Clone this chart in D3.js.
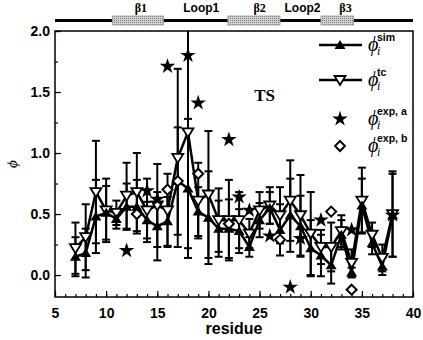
<!DOCTYPE html>
<html><head><meta charset="utf-8">
<script src="https://cdn.jsdelivr.net/npm/d3@7"></script>
<style>body{margin:0;background:#fff}svg{display:block}</style>
</head><body>
<svg id="c" width="423" height="340"></svg>
<script>
const residues = [7,8,9,10,11,12,13,14,15,16,17,18,19,20,21,22,23,24,25,26,27,28,29,30,31,32,33,34,35,36,37,38];
const phiSim   = [0.15,0.18,0.48,0.51,0.46,0.56,0.56,0.45,0.40,0.44,0.77,0.71,0.52,0.47,0.38,0.38,0.36,0.23,0.45,0.55,0.37,0.49,0.40,0.22,0.16,0.08,0.33,0.02,0.57,0.26,0.07,0.49];
const errSim   = [0.16,0.20,0.30,0.22,0.08,0.19,0.22,0.15,0.28,0.20,0.44,0.57,0.20,0.38,0.23,0.24,0.18,0.08,0.14,0.13,0.21,0.30,0.25,0.23,0.17,0.15,0.12,0.04,0.22,0.09,0.07,0.34];
const phiTc    = [0.22,0.31,0.68,0.53,0.51,0.65,0.68,0.53,0.57,0.53,0.96,1.17,0.61,0.66,0.45,0.45,0.45,0.34,0.53,0.57,0.49,0.61,0.49,0.34,0.23,0.23,0.36,0.10,0.61,0.33,0.14,0.50];
const errTc    = [0.21,0.27,0.42,0.26,0.10,0.27,0.32,0.26,0.34,0.30,0.73,0.95,0.31,0.52,0.26,0.33,0.23,0.12,0.15,0.15,0.23,0.33,0.33,0.34,0.14,0.20,0.13,0.11,0.27,0.10,0.11,0.35];
const expAres  = [12,14,15,16,18,19,22,23,24,26,28,29,31,34,38];
const expAval  = [0.20,0.69,0.62,1.71,1.80,1.41,1.11,0.64,0.53,0.32,-0.10,0.30,0.45,0.37,0.49];
const expBres  = [13,16,17,19,22,27,32,34];
const expBval  = [0.50,0.70,0.77,0.83,0.42,0.29,0.52,-0.12];
const xTicks   = [5,10,15,20,25,30,35,40];
const yTicks   = [0.0,0.5,1.0,1.5,2.0];
const sseNames = ["β1","Loop1","β2","Loop2","β3"];
const sseLabelPos = [13.4,19.3,25.0,29.2,33.4];
const strands  = [[10.6,15.6],[21.9,27.0],[31.0,34.2]];

const svg = d3.select("#c");
const L=55,R=413,T=31,B=297;
const x = d3.scaleLinear().domain([5,40]).range([L,R]);
const y = d3.scaleLinear().domain([-0.18,2.0]).range([B,T]);
const sans = "'Liberation Sans', Arial, sans-serif";
const serif = "'Liberation Serif', 'Times New Roman', serif";

const defs = svg.append("defs");
const pat = defs.append("pattern").attr("id","hatch").attr("width",2).attr("height",2).attr("patternUnits","userSpaceOnUse");
pat.append("rect").attr("width",2).attr("height",2).attr("fill","#d0d0d0");
pat.append("rect").attr("width",1).attr("height",1).attr("fill","#808080");
defs.append("clipPath").attr("id","clip").append("rect").attr("x",L).attr("y",T).attr("width",R-L).attr("height",B-T);

// secondary structure bar
svg.append("line").attr("x1",x(5)).attr("x2",x(40)).attr("y1",20.5).attr("y2",20.5).attr("stroke","#000").attr("stroke-width",3);
svg.selectAll(".strand").data(strands).join("rect")
  .attr("x",d=>x(d[0])).attr("width",d=>x(d[1])-x(d[0])).attr("y",16).attr("height",9)
  .attr("fill","url(#hatch)").attr("stroke","#999").attr("stroke-width",0.8);
svg.selectAll(".sse").data(sseNames).join("text")
  .attr("x",(d,i)=>x(sseLabelPos[i])).attr("y",12).attr("text-anchor","middle")
  .attr("font-family",(d)=>d.startsWith("β")?serif:sans).attr("font-weight","bold").attr("font-size",12).text(d=>d);

// axes
const gx = svg.append("g").attr("transform",`translate(0,${B})`);
gx.call(d3.axisBottom(x).tickValues(d3.range(5,41,1)).tickSize(-3).tickFormat(""));
gx.select(".domain").remove();
const gx2 = svg.append("g").attr("transform",`translate(0,${B})`);
gx2.call(d3.axisBottom(x).tickValues(xTicks).tickSize(-6).tickPadding(11).tickFormat(d3.format("d")));
gx2.select(".domain").remove();
gx2.selectAll("text").attr("font-family",sans).attr("font-weight","bold").attr("font-size",14).attr("fill","#000");

const gy = svg.append("g").attr("transform",`translate(${L},0)`);
gy.call(d3.axisLeft(y).tickValues(d3.range(0,2.01,0.25)).tickSize(-3).tickFormat(""));
gy.select(".domain").remove();
const gy2 = svg.append("g").attr("transform",`translate(${L},0)`);
gy2.call(d3.axisLeft(y).tickValues(yTicks).tickSize(-6).tickPadding(5).tickFormat(d3.format(".1f")));
gy2.select(".domain").remove();
gy2.selectAll("text").attr("font-family",sans).attr("font-weight","bold").attr("font-size",14).attr("fill","#000");
svg.selectAll(".tick line").attr("stroke","#000").attr("stroke-width",1.2);

svg.append("rect").attr("x",L).attr("y",T).attr("width",R-L).attr("height",B-T).attr("fill","none").attr("stroke","#000").attr("stroke-width",1.5);

svg.append("text").attr("x",(L+R)/2).attr("y",334).attr("text-anchor","middle")
  .attr("font-family",sans).attr("font-weight","bold").attr("font-size",16).text("residue");
svg.append("text").attr("transform",`translate(17,${(T+B)/2}) rotate(-90)`).attr("text-anchor","middle")
  .attr("font-family",serif).attr("font-style","italic").attr("font-size",15).text("ϕ");

svg.append("text").attr("x",x(25.5)).attr("y",101).attr("text-anchor","middle")
  .attr("font-family",serif).attr("font-weight","bold").attr("font-size",17).text("TS");

// data
const plot = svg.append("g").attr("clip-path","url(#clip)");
function errBars(vals, errs){
  const g = plot.append("g").attr("stroke","#000").attr("stroke-width",2);
  residues.forEach((r,i)=>{
    const cx=x(r), y1=y(vals[i]+errs[i]), y2=y(vals[i]-errs[i]);
    g.append("line").attr("x1",cx).attr("x2",cx).attr("y1",y1).attr("y2",y2);
    g.append("line").attr("x1",cx-4).attr("x2",cx+4).attr("y1",y1).attr("y2",y1);
    g.append("line").attr("x1",cx-4).attr("x2",cx+4).attr("y1",y2).attr("y2",y2);
  });
}
errBars(phiTc, errTc);
errBars(phiSim, errSim);
const line = d3.line().x((d,i)=>x(residues[i])).y(d=>y(d));
plot.append("path").datum(phiTc).attr("d",line).attr("fill","none").attr("stroke","#000").attr("stroke-width",2.5);
plot.append("path").datum(phiSim).attr("d",line).attr("fill","none").attr("stroke","#000").attr("stroke-width",2.5);

const tri = "M0,-5L5.5,4L-5.5,4Z";
const triDown = "M0,5L5.5,-4L-5.5,-4Z";
plot.selectAll(".tc").data(phiTc).join("path").attr("d",triDown)
  .attr("transform",(d,i)=>`translate(${x(residues[i])},${y(d)})`).attr("fill","#fff").attr("stroke","#000").attr("stroke-width",1.8);
plot.selectAll(".sim").data(phiSim).join("path").attr("d",tri)
  .attr("transform",(d,i)=>`translate(${x(residues[i])},${y(d)})`).attr("fill","#000");
const star = d3.symbol().type(d3.symbolStar).size(75);
plot.selectAll(".sa").data(expAval).join("path").attr("d",star)
  .attr("transform",(d,i)=>`translate(${x(expAres[i])},${y(d)})`).attr("fill","#000");
const dia = "M0,-5L5,0L0,5L-5,0Z";
plot.selectAll(".sb").data(expBval).join("path").attr("d",dia)
  .attr("transform",(d,i)=>`translate(${x(expBres[i])},${y(d)})`).attr("fill","#fff").attr("stroke","#000").attr("stroke-width",2);

// legend
const leg = svg.append("g");
const rows = [
  {y:45, kind:"sim", sup:"sim"},
  {y:80, kind:"tc", sup:"tc"},
  {y:119, kind:"a", sup:"exp, a"},
  {y:146, kind:"b", sup:"exp, b"}
];
rows.forEach(rw=>{
  const cx=340;
  if(rw.kind==="sim"||rw.kind==="tc"){
    leg.append("line").attr("x1",319).attr("x2",362).attr("y1",rw.y).attr("y2",rw.y).attr("stroke","#000").attr("stroke-width",2.5);
  }
  if(rw.kind==="sim") leg.append("path").attr("d",tri).attr("transform",`translate(${cx},${rw.y})`).attr("fill","#000");
  if(rw.kind==="tc") leg.append("path").attr("d",triDown).attr("transform",`translate(${cx},${rw.y})`).attr("fill","#fff").attr("stroke","#000").attr("stroke-width",1.8);
  if(rw.kind==="a") leg.append("path").attr("d",star).attr("transform",`translate(${cx},${rw.y})`).attr("fill","#000");
  if(rw.kind==="b") leg.append("path").attr("d",dia).attr("transform",`translate(${cx},${rw.y})`).attr("fill","#fff").attr("stroke","#000").attr("stroke-width",2);
  leg.append("text").attr("x",368).attr("y",rw.y+6)
    .attr("font-family",serif).attr("font-style","italic").attr("font-size",20).text("ϕ");
  leg.append("text").attr("x",377).attr("y",rw.y+10)
    .attr("font-family",serif).attr("font-style","italic").attr("font-size",12).text("i");
  leg.append("text").attr("x",377).attr("y",rw.y-4)
    .attr("font-family",sans).attr("font-weight","bold").attr("font-size",10.5).text(rw.sup);
});
</script>
</body></html>
